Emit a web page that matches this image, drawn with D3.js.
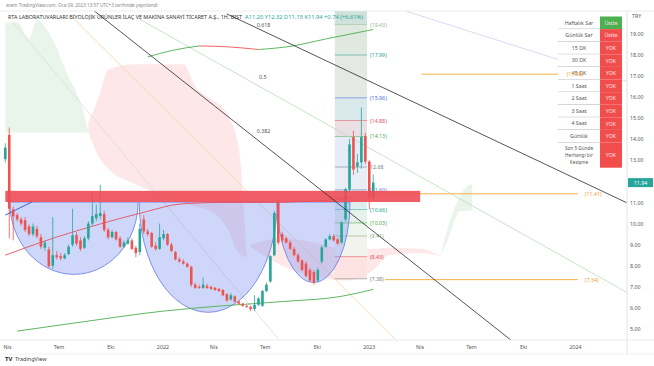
<!DOCTYPE html>
<html>
<head>
<meta charset="utf-8">
<script src="https://cdn.jsdelivr.net/npm/d3@7"></script>
<style>
body { margin: 0; background: #fff; }
svg { display: block; font-family: "Noto Sans", sans-serif; }
</style>
</head>
<body>
<div id="chart"></div>
<script>
// weekly candles, first one is the week of 29 Mar 2021
var candleStart = new Date(2021, 2, 29);
var ohlc = [
  [13.05, 13.8, 12.9, 13.6], [14.2, 14.55, 9.3, 10.7], [10.67, 10.8, 9.2, 10.34], [10.4, 10.5, 10.1, 10.2],
  [10.2, 10.3, 9.9, 10.0], [10.15, 10.3, 9.6, 9.7], [9.86, 9.95, 9.4, 9.5], [9.5, 10.0, 9.4, 9.86],
  [9.75, 9.9, 9.3, 9.4], [9.35, 9.5, 8.8, 8.9], [8.85, 9.2, 8.7, 9.1], [8.77, 8.9, 7.9, 7.97],
  [8.0, 10.3, 7.85, 8.5], [8.5, 8.7, 8.3, 8.4], [8.45, 8.6, 8.25, 8.35], [8.35, 8.6, 8.3, 8.5],
  [8.55, 9.0, 8.5, 8.9], [9.0, 10.7, 8.9, 9.45], [9.45, 9.6, 8.95, 9.05], [9.2, 9.35, 8.7, 8.8],
  [8.85, 9.4, 8.8, 9.3], [9.3, 10.1, 9.2, 10.0], [10.0, 11.5, 9.9, 10.35], [10.25, 10.9, 10.1, 10.45],
  [10.35, 11.85, 10.2, 10.5], [10.45, 10.6, 9.6, 9.7], [9.7, 9.8, 9.25, 9.35], [9.35, 9.7, 9.3, 9.6],
  [9.6, 9.65, 9.2, 9.25], [9.3, 9.4, 8.85, 8.9], [8.9, 9.2, 8.85, 9.1], [9.05, 9.35, 9.0, 9.2],
  [9.2, 9.3, 8.75, 8.8], [8.85, 8.95, 8.4, 8.6], [8.65, 10.0, 8.5, 9.75], [10.2, 10.4, 9.5, 9.63],
  [9.63, 9.75, 9.4, 9.5], [9.55, 9.6, 8.85, 8.9], [8.95, 9.1, 8.7, 8.8], [8.8, 10.0, 8.75, 9.35],
  [9.3, 9.7, 9.2, 9.5], [9.5, 9.55, 8.95, 9.0], [9.0, 9.1, 8.65, 8.7], [8.65, 8.7, 8.25, 8.3],
  [8.3, 8.4, 8.15, 8.2], [8.2, 8.3, 8.05, 8.1], [8.1, 8.15, 7.9, 7.95], [7.95, 8.0, 7.0, 7.1],
  [7.1, 7.2, 6.9, 6.95], [7.0, 7.1, 6.9, 6.95], [6.95, 7.45, 6.9, 7.1], [7.05, 7.15, 6.9, 6.95],
  [7.0, 7.05, 6.85, 6.9], [6.95, 7.0, 6.8, 6.85], [6.9, 6.95, 6.75, 6.8], [6.85, 6.9, 6.55, 6.6],
  [6.65, 6.7, 6.3, 6.35], [6.4, 6.7, 6.35, 6.6], [6.55, 6.6, 6.25, 6.3], [6.3, 6.35, 6.15, 6.2],
  [6.2, 6.25, 6.05, 6.1], [6.1, 6.15, 6.0, 6.05], [6.05, 6.1, 5.85, 5.95], [5.95, 6.6, 5.85, 6.15],
  [6.15, 6.5, 6.1, 6.45], [6.1, 6.85, 6.05, 6.8], [6.8, 7.2, 6.75, 7.1], [7.25, 8.5, 7.2, 8.45],
  [8.5, 10.6, 8.45, 10.5], [11.0, 11.15, 9.0, 9.1], [9.5, 9.6, 9.1, 9.2], [9.3, 9.4, 9.05, 9.1],
  [9.1, 9.2, 8.75, 8.8], [8.8, 8.9, 8.45, 8.5], [8.5, 8.6, 8.15, 8.2], [8.25, 8.3, 7.75, 7.8],
  [8.1, 8.2, 7.45, 7.5], [7.8, 7.9, 7.25, 7.3], [7.7, 7.8, 7.1, 7.2], [7.3, 7.9, 7.2, 7.8],
  [8.2, 8.95, 8.1, 8.87], [8.9, 9.3, 8.85, 9.25], [9.25, 9.5, 9.2, 9.4], [9.4, 9.5, 9.15, 9.2],
  [9.25, 9.3, 9.0, 9.05], [9.1, 10.1, 9.05, 10.05], [10.2, 11.7, 10.1, 11.62], [11.62, 14.0, 11.5, 13.75],
  [14.1, 14.4, 12.3, 12.56], [12.7, 13.3, 12.4, 12.9], [12.9, 15.5, 12.6, 14.1], [14.13, 14.3, 12.8, 12.94],
  [12.94, 13.0, 10.67, 11.24], [11.20, 12.32, 11.15, 11.94]
];

var timeTicks = ["2021-04-01", "2021-07-01", "2021-10-01", "2022-01-01", "2022-04-01", "2022-07-01",
  "2022-10-01", "2023-01-01", "2023-04-01", "2023-07-01", "2023-10-01", "2024-01-01"];
var timeLabels = ["Nis", "Tem", "Eki", "2022", "Nis", "Tem", "Eki", "2023", "Nis", "Tem", "Eki", "2024"];
var priceTicks = [5, 6, 7, 8, 9, 10, 11, 13, 14, 15, 16, 17, 18, 19];
var lastPrice = 11.94;

// moving averages, {i: week index, p: price}
var maRed = [{i: 0, p: 8.5}, {i: 12, p: 9.3}, {i: 24, p: 9.98}, {i: 36, p: 10.58}, {i: 44, p: 10.92},
  {i: 55, p: 11.0}, {i: 66, p: 11.0}, {i: 76, p: 11.05}, {i: 84, p: 11.15}, {i: 88, p: 11.25}];
var maGreen = [{i: 3, p: 4.9}, {i: 20, p: 5.35}, {i: 40, p: 5.85}, {i: 55, p: 6.1}, {i: 70, p: 6.3},
  {i: 85, p: 6.55}, {i: 93, p: 6.88}];
var maBlue = [{i: 0, p: 10.4}, {i: 7, p: 11.05}];
var topUp1 = [{i: 36, p: 17.9}, {i: 42, p: 18.2}, {i: 49, p: 18.42}];
var topDown = [{i: 49, p: 18.42}, {i: 56, p: 18.38}, {i: 64, p: 18.25}];
var topUp2 = [{i: 64, p: 18.25}, {i: 72, p: 18.4}, {i: 81, p: 18.75}, {i: 93, p: 19.2}];

// ichimoku clouds, a = span A, b = span B
var cloudGreen1 = [{i: 0, a: 19.5, b: 14.32}, {i: 3, a: 19.55, b: 14.32}, {i: 6, a: 18.75, b: 14.32},
  {i: 8, a: 19.65, b: 14.32}, {i: 11, a: 19.05, b: 14.32}, {i: 16, a: 16.95, b: 14.32},
  {i: 19, a: 15.75, b: 14.32}, {i: 21, a: 14.35, b: 14.32}];
var cloudRed1 = [{i: 21, a: 14.32, b: 14.8}, {i: 24, a: 13.05, b: 16.2}, {i: 26, a: 12.6, b: 17.3},
  {i: 33, a: 11.85, b: 17.55}, {i: 45, a: 11.0, b: 17.55}, {i: 48, a: 10.8, b: 16.5},
  {i: 52, a: 10.6, b: 15.9}, {i: 56, a: 9.8, b: 15.2}, {i: 59, a: 8.6, b: 13.6}, {i: 61, a: 8.4, b: 8.45}];
var cloudRed2 = [{i: 62, a: 8.9, b: 9.0}, {i: 70, a: 8.0, b: 9.3}, {i: 78, a: 7.5, b: 9.1},
  {i: 86, a: 7.3, b: 8.8}, {i: 93, a: 7.8, b: 8.8}, {i: 97, a: 8.5, b: 8.85}, {i: 105, a: 8.6, b: 8.8},
  {i: 110, a: 8.45, b: 8.45}];
var cloudGreen2 = [{i: 110, a: 8.45, b: 8.45}, {i: 112, a: 9.9, b: 9.3}, {i: 115, a: 11.3, b: 10.6},
  {i: 117, a: 11.8, b: 10.58}, {i: 118, a: 11.85, b: 10.65}];

// drawings: trend lines as [date, price] pairs
var trendBlack = [[["2021-08-31", 20.13], ["2023-09-25", 4.15]], [["2022-04-25", 19.94], ["2024-04-02", 10.98]]];
var trendFaint = [
  {pts: [["2021-11-22", 19.68], ["2024-04-02", 6.73]], c: "#b9dcb9"},
  {pts: [["2021-07-21", 19.91], ["2023-02-17", 4.5]], c: "#f6d2a6"},
  {pts: [["2021-04-12", 19.53], ["2022-07-26", 4.5]], c: "#dcdcdc"},
  {pts: [["2023-03-09", 20.06], ["2024-04-02", 16.74]], c: "#cfd1ee"}
];
var band = {from: "2021-03-29", to: "2023-04-02", lo: 11.02, hi: 11.55};
var cups = [
  {from: "2021-04-06", to: "2021-11-19", top: 11.02, bottom: 7.59},
  {from: "2021-11-21", to: "2022-07-23", top: 11.02, bottom: 5.79},
  {from: "2022-07-23", to: "2022-11-29", top: 11.02, bottom: 7.21}
];
var fibFrom = "2022-11-02", fibTo = "2022-12-29";
var fibLevels = [19.43, 17.99, 15.96, 14.88, 14.13, 12.68, 11.60, 10.66, 10.03, 9.41, 8.43, 7.38];
var fibLabels = ["(19.43)", "(17.99)", "(15.96)", "(14.88)", "(14.13)", "12.68", "(11.60)", "(10.66)",
  "(10.03)", "(9.41)", "(8.43)", "(7.38)"];
var fibTop = 20.25;
var hLines = [
  {p: 11.41, from: "2022-12-30", to: "2024-01-06", label: "(11.41)"},
  {p: 7.34, from: "2023-01-30", to: "2024-01-06", label: "(7.34)"},
  {p: 17.08, from: "2023-04-04", to: "2023-12-05", label: "(17.08)"}
];
var fanLabels = [{t: "0.618", d: "2022-06-17", p: 19.3}, {t: "0.5", d: "2022-06-21", p: 16.85}, {t: "0.382", d: "2022-06-17", p: 14.3}];

var tableRows = ["Haftalık Sar", "Günlük Sar", "15 DK", "30 DK", "45 DK", "1 Saat", "2 Saat", "3 Saat", "4 Saat", "Günlük", "Son 5 Günde|Herhangi bir|Kesişme"];
var tableVals = ["Üstte", "Üstte", "YOK", "YOK", "YOK", "YOK", "YOK", "YOK", "YOK", "YOK", "YOK"];

var width = 654, height = 366;
var plotRight = 627, plotTop = 11, plotBottom = 340;

var svg = d3.select("#chart").append("svg").attr("width", width).attr("height", height);

var x = d3.scaleTime().domain([new Date(2021, 3, 1), new Date(2024, 0, 1)]).range([7, 575]);
var y = d3.scaleLinear().domain([5, 19]).range([329, 33.7]);
var parse = d3.timeParse("%Y-%m-%d");
function wk(i) { return d3.timeWeek.offset(candleStart, i); }
function xi(i) { return x(wk(i)); }

svg.append("defs").append("clipPath").attr("id", "plot")
  .append("rect").attr("x", 0).attr("y", plotTop).attr("width", plotRight).attr("height", plotBottom - plotTop);

var g = svg.append("g").attr("clip-path", "url(#plot)");

// clouds
var cloud = d3.area().x(function (d) { return xi(d.i); })
  .y0(function (d) { return y(d.a); }).y1(function (d) { return y(d.b); })
  .curve(d3.curveMonotoneX);
[[cloudGreen1, "#4caf50"], [cloudRed1, "#f23645"], [cloudRed2, "#f23645"], [cloudGreen2, "#4caf50"]].forEach(function (c) {
  g.append("path").attr("d", cloud(c[0])).attr("fill", c[1]).attr("fill-opacity", 0.12);
});

// fib zones
var fibEdges = [fibTop].concat(fibLevels);
var fibFills = ["#cfe1db", "#e0e9df", "#e4e9e4", "#d9e8ea", "#eadfe3", "#e4ecf8", "#e9eef6", "#dfeff0",
  "#e4f2e9", "#edf5ec", "#f3f3ee", "#fde2e2"];
var fibColors = ["#8fb88f", "#2f9e8f", "#4a6fe3", "#e04f5f", "#52a852", "#808080", "#5b7fd6", "#22a38d",
  "#45a845", "#8aa87a", "#e0525a", "#808080"];
var fx0 = x(parse(fibFrom)), fx1 = x(parse(fibTo));
for (var k = 0; k < fibLevels.length; k++) {
  g.append("rect").attr("x", fx0).attr("width", fx1 - fx0)
    .attr("y", y(fibEdges[k])).attr("height", y(fibEdges[k + 1]) - y(fibEdges[k]))
    .attr("fill", fibFills[k]);
}
fibLevels.forEach(function (p, k) {
  g.append("line").attr("x1", fx0).attr("x2", fx1).attr("y1", y(p)).attr("y2", y(p))
    .attr("stroke", fibColors[k]).attr("stroke-width", 0.7).attr("opacity", 0.8);
  g.append("text").attr("x", fx1 + 3).attr("y", y(p) + 2).attr("font-size", 5.3)
    .attr("fill", fibColors[k]).text(fibLabels[k]);
});

// faint lines
function pt(a) { return [x(parse(a[0])), y(a[1])]; }
trendFaint.forEach(function (t) {
  g.append("path").attr("d", d3.line()(t.pts.map(pt))).attr("stroke", t.c).attr("stroke-width", 0.8).attr("fill", "none");
});

// cups
cups.forEach(function (c) {
  var xl = x(parse(c.from)), xr = x(parse(c.to)), yt = y(c.top), yb = y(c.bottom);
  var rx = (xr - xl) / 2, ry = yb - yt;
  g.append("path")
    .attr("d", "M" + xl + "," + yt + " A" + rx + "," + ry + " 0 0 0 " + xr + "," + yt + " Z")
    .attr("fill", "#7f95ee").attr("fill-opacity", 0.38)
    .attr("stroke", "#6f86e6").attr("stroke-width", 0.9);
});

// moving averages
var maLine = d3.line().x(function (d) { return xi(d.i); }).y(function (d) { return y(d.p); }).curve(d3.curveMonotoneX);
g.append("path").attr("d", maLine(maGreen)).attr("stroke", "#4caf50").attr("stroke-width", 0.9).attr("fill", "none");
g.append("path").attr("d", maLine(maRed)).attr("stroke", "#e5505e").attr("stroke-width", 0.9).attr("fill", "none");
g.append("path").attr("d", maLine(maBlue)).attr("stroke", "#3f5fe0").attr("stroke-width", 1).attr("fill", "none");
g.append("path").attr("d", maLine(topUp1)).attr("stroke", "#4caf50").attr("stroke-width", 0.9).attr("fill", "none");
g.append("path").attr("d", maLine(topDown)).attr("stroke", "#ef5350").attr("stroke-width", 0.9).attr("fill", "none");
g.append("path").attr("d", maLine(topUp2)).attr("stroke", "#4caf50").attr("stroke-width", 0.9).attr("fill", "none");

// horizontal orange lines
hLines.forEach(function (h) {
  var xe = x(parse(h.to));
  g.append("line").attr("x1", x(parse(h.from))).attr("x2", xe).attr("y1", y(h.p)).attr("y2", y(h.p))
    .attr("stroke", "#f5b04a").attr("stroke-width", 1);
});

// candles
var candles = g.selectAll("g.candle").data(ohlc).enter().append("g").attr("class", "candle");
candles.append("line")
  .attr("x1", function (d, i) { return xi(i); }).attr("x2", function (d, i) { return xi(i); })
  .attr("y1", function (d) { return y(d[1]); }).attr("y2", function (d) { return y(d[2]); })
  .attr("stroke", function (d) { return d[3] >= d[0] ? "#26a69a" : "#ef5350"; }).attr("stroke-width", 0.8);
candles.append("rect")
  .attr("x", function (d, i) { return xi(i) - 1.3; }).attr("width", 2.6)
  .attr("y", function (d) { return y(Math.max(d[0], d[3])); })
  .attr("height", function (d) { return Math.max(0.8, Math.abs(y(d[0]) - y(d[3]))); })
  .attr("fill", function (d) { return d[3] >= d[0] ? "#26a69a" : "#ef5350"; });

// red zone
g.append("rect").attr("x", x(parse(band.from))).attr("width", x(parse(band.to)) - x(parse(band.from)))
  .attr("y", y(band.hi)).attr("height", y(band.lo) - y(band.hi))
  .attr("fill", "#f04b55").attr("fill-opacity", 0.9);

// black trend lines
trendBlack.forEach(function (t) {
  g.append("path").attr("d", d3.line()(t.map(pt))).attr("stroke", "#2a2a2a").attr("stroke-width", 0.8).attr("fill", "none");
});

fanLabels.forEach(function (f) {
  g.append("text").attr("x", x(parse(f.d))).attr("y", y(f.p)).attr("font-size", 5.3).attr("fill", "#555").text(f.t);
});

// table
var tx0 = 558, tx1 = 600, tx2 = 622, ty0 = 16.5, rowH = 12.6;
tableRows.forEach(function (r, k) {
  var last = k === tableRows.length - 1;
  var h = last ? rowH * 2 : rowH;
  var yy = ty0 + k * rowH;
  svg.append("rect").attr("x", tx0).attr("y", yy).attr("width", tx1 - tx0).attr("height", h).attr("fill", "#fff");
  svg.append("rect").attr("x", tx1).attr("y", yy).attr("width", tx2 - tx1).attr("height", h)
    .attr("fill", k === 0 ? "#4caf50" : "#f14d4d");
  if (!last) {
    svg.append("line").attr("x1", tx0).attr("x2", tx1).attr("y1", yy + h).attr("y2", yy + h)
      .attr("stroke", "#9a9a9a").attr("stroke-width", 0.7);
  }
  var lines = r.split("|");
  var fs = last ? 4.7 : 5.3, gap = 6.8;
  lines.forEach(function (s, j) {
    svg.append("text").attr("x", (tx0 + tx1) / 2).attr("y", yy + h / 2 + 1.7 + (j - (lines.length - 1) / 2) * gap)
      .attr("text-anchor", "middle").attr("font-size", fs).attr("fill", "#555").text(s);
  });
  svg.append("text").attr("x", (tx1 + tx2) / 2).attr("y", yy + h / 2 + 1.9)
    .attr("text-anchor", "middle").attr("font-size", 5.3).attr("fill", "#fbe0e0").text(tableVals[k]);
});

hLines.forEach(function (h) {
  svg.append("text").attr("x", x(parse(h.to)) + 7).attr("y", y(h.p) + 2).attr("font-size", 5.3)
    .attr("fill", "#f0a030").text(h.label);
});

// frame
svg.append("line").attr("x1", 0).attr("x2", width).attr("y1", plotTop).attr("y2", plotTop).attr("stroke", "#e6e8ee").attr("stroke-width", 0.8);
svg.append("line").attr("x1", 0).attr("x2", width).attr("y1", plotBottom).attr("y2", plotBottom).attr("stroke", "#e0e3eb").attr("stroke-width", 0.8);
svg.append("line").attr("x1", 0).attr("x2", width).attr("y1", 354).attr("y2", 354).attr("stroke", "#eceef2").attr("stroke-width", 0.8);

// price axis
var yAxis = d3.axisRight(y).tickValues(priceTicks).tickSize(0).tickPadding(3).tickFormat(d3.format(".2f"));
var ya = svg.append("g").attr("transform", "translate(" + plotRight + ",0)").call(yAxis);
ya.select(".domain").attr("stroke", "#e0e3eb").attr("d", "M0," + plotTop + "V354");
ya.selectAll("text").attr("font-size", 5.3).attr("fill", "#555").attr("font-family", "Noto Sans, sans-serif");
svg.append("text").attr("x", 632).attr("y", 18).attr("font-size", 5.3).attr("fill", "#555").text("TRY");
svg.append("rect").attr("x", plotRight + 1).attr("y", y(lastPrice) - 4.5).attr("width", 25).attr("height", 9).attr("fill", "#26a69a");
svg.append("text").attr("x", plotRight + 13.5).attr("y", y(lastPrice) + 2).attr("text-anchor", "middle")
  .attr("font-size", 5.3).attr("fill", "#fff").text(d3.format(".2f")(lastPrice));

// time axis
var xAxis = d3.axisBottom(x).tickValues(timeTicks.map(parse)).tickSize(0).tickPadding(5)
  .tickFormat(function (d, i) { return timeLabels[i]; });
var xa = svg.append("g").attr("transform", "translate(0," + plotBottom + ")").call(xAxis);
xa.select(".domain").remove();
xa.selectAll("text").attr("font-size", 5.3).attr("fill", "#555").attr("font-family", "Noto Sans, sans-serif");

// header and title
svg.append("text").attr("x", 6).attr("y", 7).attr("font-size", 4.6).attr("fill", "#888")
  .text("azem TradingView.com, Oca 09, 2023 13:57 UTC+3 tarihinde yayınlandı");
svg.append("text").attr("x", 8).attr("y", 18.5).attr("font-size", 4.9).attr("fill", "#333")
  .attr("textLength", 234).attr("lengthAdjust", "spacingAndGlyphs")
  .text("RTA LABORATUVARLARI BİYOLOJİK ÜRÜNLER İLAÇ VE MAKİNA SANAYİ TİCARET A.Ş., 1H, BIST");
svg.append("text").attr("x", 245).attr("y", 18.5).attr("font-size", 4.9).attr("fill", "#26a69a")
  .attr("textLength", 118).attr("lengthAdjust", "spacingAndGlyphs")
  .text("A11.20 Y12.32 D11.15 K11.94 +0.74 (+6.61%)");

// logo
svg.append("text").attr("x", 5).attr("y", 361).attr("font-size", 6).attr("font-weight", "bold").attr("fill", "#222").text("TV");
svg.append("text").attr("x", 15).attr("y", 361).attr("font-size", 5.5).attr("fill", "#444").text("TradingView");
</script>
</body>
</html>
